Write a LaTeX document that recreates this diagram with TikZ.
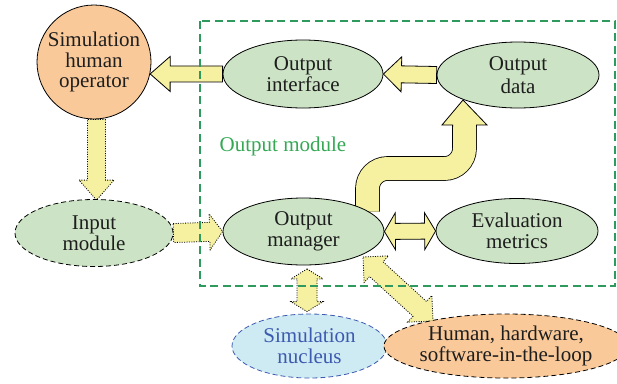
\documentclass[tikz,border=0pt]{standalone}
\usepackage{fontspec}
\setmainfont{Liberation Serif}
\usetikzlibrary{shapes.geometric,calc,backgrounds}
\definecolor{nodegreen}{RGB}{204,228,197}
\definecolor{nodeorange}{RGB}{249,201,153}
\definecolor{nodeblue}{RGB}{206,234,242}
\definecolor{bordblue}{RGB}{60,90,175}
\definecolor{arrowyellow}{RGB}{245,241,160}
\definecolor{modgreen}{RGB}{46,154,94}
\definecolor{labgreen}{RGB}{52,168,83}
\definecolor{txtgray}{RGB}{30,30,30}

\tikzset{fa shaft/.store in=\fashaft, fa head/.store in=\fahead, fa len/.store in=\falen,
  fa shaft=8pt, fa head=17pt, fa len=20pt}

% fat block arrow, one head
\newcommand{\fatarrow}[3][]{%
  \begin{scope}[#1]
    \coordinate (fa-s) at (#2);
    \coordinate (fa-e) at (#3);
    \coordinate (fa-b) at ($(fa-e)!\falen!(fa-s)$);
    \draw[fatarr,#1] ($(fa-s)!\fashaft!90:(fa-e)$) -- ($(fa-b)!\fashaft!-90:(fa-s)$)
      -- ($(fa-b)!\fahead!-90:(fa-s)$) -- (fa-e) -- ($(fa-b)!\fahead!90:(fa-s)$)
      -- ($(fa-b)!\fashaft!90:(fa-s)$) -- ($(fa-s)!\fashaft!-90:(fa-e)$) -- cycle;
  \end{scope}}

% fat block arrow, two heads
\newcommand{\dfatarrow}[3][]{%
  \begin{scope}[#1]
    \coordinate (fa-s) at (#2);
    \coordinate (fa-e) at (#3);
    \coordinate (fa-a) at ($(fa-s)!\falen!(fa-e)$);
    \coordinate (fa-b) at ($(fa-e)!\falen!(fa-s)$);
    \draw[fatarr,#1] (fa-s) -- ($(fa-a)!\fahead!90:(fa-e)$) -- ($(fa-a)!\fashaft!90:(fa-e)$)
      -- ($(fa-b)!\fashaft!-90:(fa-s)$) -- ($(fa-b)!\fahead!-90:(fa-s)$) -- (fa-e)
      -- ($(fa-b)!\fahead!90:(fa-s)$) -- ($(fa-b)!\fashaft!90:(fa-s)$)
      -- ($(fa-a)!\fashaft!-90:(fa-e)$) -- ($(fa-a)!\fahead!-90:(fa-e)$) -- cycle;
  \end{scope}}

\begin{document}
\begin{tikzpicture}[x=1pt,y=-1pt,
  every node/.style={font=\fontsize{21}{20.5}\selectfont,text=txtgray,align=center},
  blob/.style={ellipse,draw=black,line width=0.8pt,fill=nodegreen,inner sep=0pt},
  dashblob/.style={blob,dash pattern=on 5pt off 3pt},
  fatarr/.style={draw=black,line width=0.8pt,fill=arrowyellow,line join=miter},
  dotarr/.style={fatarr,dash pattern=on 1pt off 1.4pt},
  moddash/.style={draw=modgreen,line width=2.8pt,dash pattern=on 8pt off 4.5pt}
]
\useasboundingbox (0,0) rectangle (617,383);

% nodes
\node[circle,draw=black,line width=0.8pt,fill=nodeorange,inner sep=0pt,minimum size=114pt,
  font=\fontsize{21}{20.3}\selectfont] (op) at (94,62) {Simulation\\human\\operator};
\node[blob,minimum width=160pt,minimum height=68pt] (oi) at (303,74) {Output\\interface};
\node[blob,minimum width=162pt,minimum height=66pt,font=\fontsize{21}{23.5}\selectfont]
  (od) at (518,75) {Output\\data};
\node[dashblob,minimum width=158pt,minimum height=67pt] (im) at (94,233) {Input\\module};
\node[blob,minimum width=161pt,minimum height=67pt] (om) at (303.5,231.5) {Output\\manager};
\node[blob,minimum width=162pt,minimum height=65pt] (em) at (517,231) {Evaluation\\metrics};
\node[dashblob,draw=bordblue,fill=nodeblue,text=bordblue,minimum width=155pt,minimum height=64pt]
  (sn) at (309.5,346) {Simulation\\nucleus};
\node[dashblob,fill=nodeorange,minimum width=220pt,minimum height=64pt]
  (hl) at (506,346) {Human, hardware,\\software-in-the-loop};

% module frame
\draw[moddash] (200,21) rectangle (615,286);
\node[text=labgreen] (modlab) at (283,146) {Output module};

% block arrows
\begin{scope}[on background layer]
\fatarrow[fa shaft=8pt,fa head=17.5pt,fa len=20pt]{oi.west}{op.-12}
\fatarrow[fa shaft=8.5pt,fa head=17.5pt,fa len=18pt]{od.west}{oi.east}
\fatarrow[dotarr,fa shaft=9pt,fa head=17.5pt,fa len=20pt]{$(op.south)+(2.5,0)$}{$(im.north)+(2.5,1)$}
\fatarrow[dotarr,fa shaft=9.5pt,fa head=18pt,fa len=13pt]{im.east}{om.west}
\dfatarrow[fa shaft=8pt,fa head=18.5pt,fa len=11pt]{om.east}{em.west}
\dfatarrow[dotarr,fa shaft=10pt,fa head=16pt,fa len=10pt]{$(om.south)+(3.5,3.5)$}{$(sn.north)+(-2.5,-2)$}
\dfatarrow[dotarr,fa shaft=10pt,fa head=18pt,fa len=18pt]{$(om.center)+(59.5,25.5)$}{$(hl.center)+(-73,-25)$}
% bent arrow manager -> data
\coordinate (bend-tip) at (463,100);
\draw[double=arrowyellow,double distance=23pt,line width=0.8pt,rounded corners=20pt]
  ($(om.center)+(64,-20)$) |- ($(bend-tip)+(1.5,68.5)$) -- ($(bend-tip)+(1.5,23)$);
\filldraw[fatarr] ($(bend-tip)+(-10.4,27)$) -- ++(0,-2) -- ($(bend-tip)+(-21,25)$) -- (bend-tip)
  -- ($(bend-tip)+(24,25)$) -- ($(bend-tip)+(13.4,25)$) -- ++(0,2);
\end{scope}
\end{tikzpicture}
\end{document}
